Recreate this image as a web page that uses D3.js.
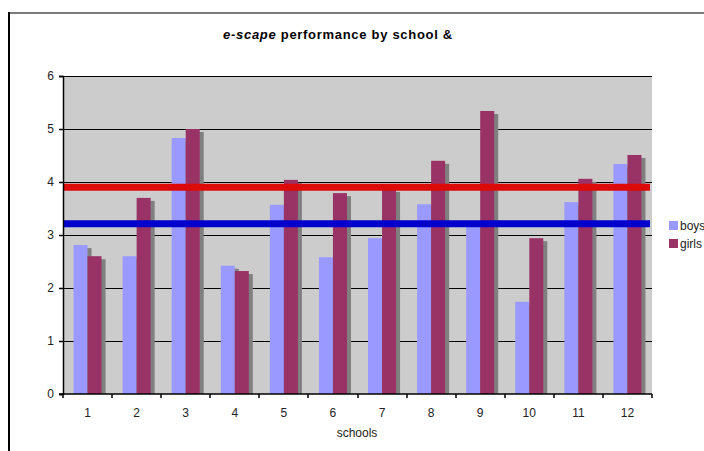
<!DOCTYPE html>
<html>
<head>
<meta charset="utf-8">
<script src="https://cdn.jsdelivr.net/npm/d3@7/dist/d3.min.js"></script>
<style>
  html, body { margin: 0; padding: 0; background: #fff; }
  svg { display: block; font-family: "Liberation Sans", Arial, sans-serif; }
</style>
</head>
<body>
<svg id="chart" width="704" height="451"></svg>
<script>
// School numbers along the x axis
const schools = ["1", "2", "3", "4", "5", "6", "7", "8", "9", "10", "11", "12"];
// Mean e-scape score per school
const boys  = [2.81, 2.60, 4.83, 2.42, 3.57, 2.58, 2.94, 3.58, 3.20, 1.74, 3.62, 4.34];
const girls = [2.60, 3.70, 5.00, 2.32, 4.04, 3.79, 3.87, 4.40, 5.34, 2.94, 4.06, 4.51];
// Overall averages drawn as horizontal bands
const boysAverage  = [3.21];
const girlsAverage = [3.90];
const yTicks = [0, 1, 2, 3, 4, 5, 6];
const seriesNames = ["boys", "girls"];

const colors = { boys: "#9999ff", girls: "#993366" };

const svg = d3.select("#chart");
const plot = { left: 63, right: 652, top: 76, bottom: 394 };

// chart frame
svg.append("line").attr("x1", 8).attr("x2", 704).attr("y1", 13).attr("y2", 13)
  .attr("stroke", "#7a7a7a").attr("stroke-width", 2);
svg.append("line").attr("x1", 9).attr("x2", 9).attr("y1", 12).attr("y2", 451)
  .attr("stroke", "#000").attr("stroke-width", 2);

// title
const title = svg.append("text").attr("x", 338).attr("y", 39)
  .attr("text-anchor", "middle").attr("font-size", 13).attr("letter-spacing", 0.7)
  .attr("font-weight", "bold").attr("fill", "#000");
title.append("tspan").attr("font-style", "italic").text("e-scape");
title.append("tspan").text(" performance by school &");

const x = d3.scaleBand().domain(schools).range([plot.left, plot.right]).paddingInner(0).paddingOuter(0);
const xSub = d3.scaleBand().domain(seriesNames).range([0, x.bandwidth()]).paddingInner(0).paddingOuter(0.75);
const y = d3.scaleLinear().domain([0, 6]).range([plot.bottom, plot.top]);

// plot background
svg.append("rect").attr("x", plot.left).attr("y", plot.top)
  .attr("width", plot.right - plot.left).attr("height", plot.bottom - plot.top)
  .attr("fill", "#cccccc");

// gridlines
svg.append("g").selectAll("line").data(yTicks.filter(d => d > 0)).join("line")
  .attr("x1", plot.left).attr("x2", plot.right)
  .attr("y1", d => Math.round(y(d)) + 0.5).attr("y2", d => Math.round(y(d)) + 0.5)
  .attr("stroke", "#000").attr("stroke-width", 1);

svg.append("clipPath").attr("id", "plotClip").append("rect")
  .attr("x", plot.left).attr("y", plot.top)
  .attr("width", plot.right - plot.left).attr("height", plot.bottom - plot.top);

const rows = schools.map((s, i) => ({ school: s, values: [
  { key: "boys", value: boys[i] }, { key: "girls", value: girls[i] }
]}));

const groups = svg.append("g").attr("clip-path", "url(#plotClip)")
  .selectAll("g").data(rows).join("g")
  .attr("transform", d => `translate(${x(d.school)},0)`);

// drop shadows first, then bars on top
groups.selectAll("rect.shadow").data(d => d.values).join("rect").attr("class", "shadow")
  .attr("x", d => xSub(d.key) + 4).attr("y", d => y(d.value) + 3)
  .attr("width", xSub.bandwidth()).attr("height", d => plot.bottom - y(d.value))
  .attr("fill", "#808080");
groups.selectAll("rect.bar").data(d => d.values).join("rect").attr("class", "bar")
  .attr("x", d => xSub(d.key)).attr("y", d => y(d.value))
  .attr("width", xSub.bandwidth()).attr("height", d => plot.bottom - y(d.value))
  .attr("fill", d => colors[d.key]);

// average bands
const avgLines = [
  { v: girlsAverage[0], c: "#dd0a0a" },
  { v: boysAverage[0], c: "#0000cc" }
];
svg.append("g").selectAll("line").data(avgLines).join("line")
  .attr("x1", plot.left).attr("x2", plot.right - 2)
  .attr("y1", d => y(d.v)).attr("y2", d => y(d.v))
  .attr("stroke", d => d.c).attr("stroke-width", 7);

// y axis
const yAxis = d3.axisLeft(y).tickValues(yTicks).tickSize(4).tickPadding(5).tickFormat(d3.format("d"));
const gy = svg.append("g").attr("transform", `translate(${plot.left},0)`).call(yAxis);
gy.select(".domain").attr("stroke", "#000").attr("stroke-width", 1.5);
gy.selectAll(".tick line").attr("stroke", "#000").attr("stroke-width", 1.5);
gy.selectAll("text").attr("font-size", 12).attr("fill", "#222")
  .attr("font-family", "'Liberation Sans', Arial, sans-serif");

// x axis: ticks at category boundaries
const gx = svg.append("g").attr("transform", `translate(0,${plot.bottom})`);
gx.append("line").attr("x1", plot.left - 4).attr("x2", plot.right).attr("y1", 0).attr("y2", 0)
  .attr("stroke", "#000").attr("stroke-width", 1.5);
const boundaries = schools.map(s => x(s)).concat([x(schools[schools.length - 1]) + x.bandwidth()]);
gx.selectAll("line.tk").data(boundaries).join("line").attr("class", "tk")
  .attr("x1", d => Math.round(d)).attr("x2", d => Math.round(d)).attr("y1", 0).attr("y2", 4)
  .attr("stroke", "#000").attr("stroke-width", 1.5);
gx.selectAll("text").data(schools).join("text")
  .attr("x", d => x(d) + x.bandwidth() / 2).attr("y", 23)
  .attr("text-anchor", "middle").attr("font-size", 12).attr("fill", "#222").text(d => d);

svg.append("text").attr("x", 357).attr("y", 437).attr("text-anchor", "middle")
  .attr("font-size", 12).attr("fill", "#222").text("schools");

// legend
const legend = svg.append("g").selectAll("g").data(seriesNames).join("g")
  .attr("transform", (d, i) => `translate(669,${221 + i * 18})`);
legend.append("rect").attr("width", 9).attr("height", 9).attr("fill", d => colors[d]);
legend.append("text").attr("x", 11).attr("y", 9).attr("font-size", 12).attr("fill", "#222").text(d => d);
</script>
</body>
</html>
